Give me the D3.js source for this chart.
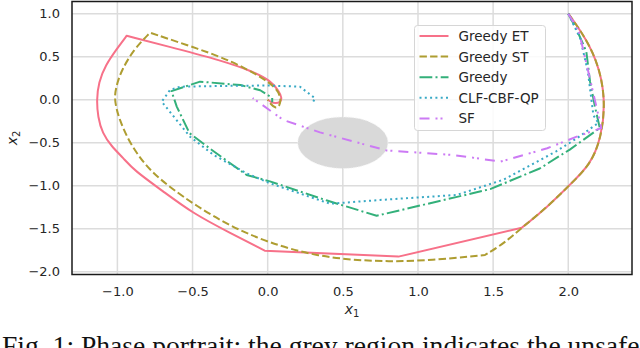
<!DOCTYPE html>
<html>
<head>
<meta charset="utf-8">
<script src="https://cdn.jsdelivr.net/npm/d3@7"></script>
<style>
  html, body { margin: 0; padding: 0; background: #fff; overflow: hidden; }
  svg { display: block; }
</style>
</head>
<body>
<div id="chart"></div>
<script>
// trajectories in (x1, x2)
const greedyET = [
  [2.0, 1.0], [2.08, 0.81], [2.19, 0.48], [2.25, 0.02],
  [2.22, -0.45], [2.145, -0.76], [2.01, -0.99], [1.86, -1.25], [1.69, -1.49],
  [0.87, -1.825], [-0.02, -1.756], [-0.25, -1.55], [-0.5, -1.32],
  [-0.7, -1.06], [-0.89, -0.82], [-0.96, -0.68], [-1.04, -0.54], [-1.1, -0.39],
  [-1.13, -0.2], [-1.138, 0.0], [-1.125, 0.2], [-1.08, 0.4], [-1.0, 0.6], [-0.938, 0.744],
  [-0.6, 0.59], [-0.317, 0.46], [-0.1, 0.33], [0.02, 0.22], [0.075, 0.1], [0.095, 0.02],
  [0.085, -0.03], [0.05, -0.045], [0.02, -0.025], [0.0, 0.0]
];
const greedyST = [
  [2.0, 1.0], [2.08, 0.81], [2.19, 0.48], [2.25, 0.02],
  [2.22, -0.45], [2.145, -0.76], [2.01, -0.99], [1.86, -1.25], [1.69, -1.49],
  [1.58, -1.66], [1.48, -1.77], [1.446, -1.806], [1.05, -1.876], [0.7, -1.884],
  [0.33, -1.826], [0.0, -1.66], [-0.25, -1.47], [-0.48, -1.23], [-0.64, -1.03],
  [-0.76, -0.86], [-0.85, -0.68], [-0.93, -0.46], [-0.985, -0.236], [-1.01, -0.08],
  [-1.02, 0.05], [-1.0, 0.2], [-0.971, 0.345], [-0.894, 0.578], [-0.783, 0.779],
  [-0.45, 0.586], [-0.229, 0.44], [-0.05, 0.27], [0.05, 0.15], [0.09, 0.03],
  [0.08, -0.08], [0.05, -0.1], [0.02, -0.05], [0.0, 0.0]
];
const greedy = [
  [2.0, 1.0], [2.06, 0.8], [2.12, 0.56], [2.145, 0.21], [2.18, -0.1], [2.21, -0.33],
  [2.01, -0.58], [1.81, -0.8], [1.48, -1.04], [1.26, -1.13], [0.725, -1.35],
  [0.39, -1.17], [0.015, -0.95], [-0.14, -0.876], [-0.36, -0.6], [-0.52, -0.39],
  [-0.605, -0.08], [-0.64, 0.1], [-0.45, 0.21], [-0.18, 0.17], [-0.05, 0.11],
  [0.03, 0.02], [0.03, -0.03]
];
const clfCbfQp = [
  [2.0, 1.0], [2.08, 0.71], [2.13, 0.33], [2.167, -0.18], [2.2, -0.27], [2.056, -0.45],
  [1.92, -0.6], [1.57, -0.93], [1.257, -1.108], [0.747, -1.166], [0.415, -1.21],
  [0.015, -0.972], [-0.14, -0.856], [-0.36, -0.643], [-0.517, -0.43], [-0.705, -0.023],
  [-0.65, 0.113], [-0.583, 0.151], [-0.3, 0.16], [0.0, 0.165], [0.215, 0.151],
  [0.315, 0.016], [0.303, -0.023]
];
const sf = [
  [2.0, 1.0], [2.07, 0.8], [2.13, 0.35], [2.22, -0.33], [2.056, -0.43], [1.86, -0.565],
  [1.55, -0.72], [1.235, -0.643], [0.79, -0.59], [0.348, -0.38], [0.104, -0.236],
  [-0.1, 0.02]
];

// indices where a smooth trajectory has a sharp corner (trigger/switch points)
const kinksET = [8, 9, 10, 23];
const kinksST = [11, 28];

const seriesNames = ["Greedy ET", "Greedy ST", "Greedy", "CLF-CBF-QP", "SF"];
const seriesData = [greedyET, greedyST, greedy, clfCbfQp, sf];
const seriesKinks = [kinksET, kinksST, null, null, null];
const colors = ["#f77189", "#ae9d31", "#33b07a", "#38a9c5", "#cc7af4"];
const dashes = [null, "7.4,3.2", "12.8,3.2,2,3.2", "2,3.3", "10,6,2,3,2,6"];

const xTicks = [-1.0, -0.5, 0.0, 0.5, 1.0, 1.5, 2.0];
const yTicks = [-2.0, -1.5, -1.0, -0.5, 0.0, 0.5, 1.0];

// unsafe set: disc centre and radius
const obstacle = {cx: 0.5, cy: -0.5, r: 0.3};

const W = 640, H = 348;
const margin = {top: 1.5, right: 8, bottom: 73.5, left: 72};

const svg = d3.select("#chart").append("svg")
  .attr("width", W).attr("height", H);

const x = d3.scaleLinear().domain([-1.302, 2.424]).range([margin.left, W - margin.right]);
const y = d3.scaleLinear().domain([-2.033, 1.142]).range([H - margin.bottom, margin.top]);

const fmt = d => (d < 0 ? "\u2212" : "") + Math.abs(d).toFixed(1);

// grid
const grid = svg.append("g").attr("stroke", "#dcdcdc").attr("stroke-width", 1.5);
grid.selectAll(".gx").data(xTicks).enter().append("line")
  .attr("x1", d => x(d)).attr("x2", d => x(d))
  .attr("y1", y.range()[1]).attr("y2", y.range()[0]);
grid.selectAll(".gy").data(yTicks).enter().append("line")
  .attr("y1", d => y(d)).attr("y2", d => y(d))
  .attr("x1", x.range()[0]).attr("x2", x.range()[1]);

// obstacle
svg.append("ellipse")
  .attr("cx", x(obstacle.cx)).attr("cy", y(obstacle.cy))
  .attr("rx", x(obstacle.cx + obstacle.r) - x(obstacle.cx))
  .attr("ry", y(obstacle.cy) - y(obstacle.cy + obstacle.r))
  .attr("fill", "#d9d9d9")
  .attr("stroke", "#f2f2f2").attr("stroke-width", 1).attr("stroke-dasharray", "1,1.5");

// trajectories: smoothed between kinks, straight otherwise
const smooth = d3.line().x(d => x(d[0])).y(d => y(d[1])).curve(d3.curveBasis);
const straight = d3.line().x(d => x(d[0])).y(d => y(d[1]));
const trajPath = (pts, kinks) => {
  if (!kinks) return straight(pts);
  const cuts = [0, ...kinks, pts.length - 1];
  return cuts.slice(1).map((c, i) => {
    const piece = pts.slice(cuts[i], c + 1);
    const d = piece.length > 2 ? smooth(piece) : straight(piece);
    return i === 0 ? d : d.replace(/^M/, "L");
  }).join("");
};

const plot = svg.append("g").attr("fill", "none").attr("stroke-width", 2);
plot.selectAll("path").data(seriesData).enter().append("path")
  .attr("d", (d, i) => trajPath(d, seriesKinks[i]))
  .attr("stroke", (d, i) => colors[i])
  .attr("stroke-dasharray", (d, i) => dashes[i])
  .attr("stroke-linejoin", "round");

// axes, labels only
const xAxis = svg.append("g")
  .attr("transform", `translate(0,${y.range()[0]})`)
  .call(d3.axisBottom(x).tickValues(xTicks).tickFormat(fmt).tickSize(0).tickPadding(12));
const yAxis = svg.append("g")
  .attr("transform", `translate(${x.range()[0]},0)`)
  .call(d3.axisLeft(y).tickValues(yTicks).tickFormat(fmt).tickSize(0).tickPadding(12));
[xAxis, yAxis].forEach(a => {
  a.select(".domain").remove();
  a.selectAll("text")
    .attr("font-family", "DejaVu Sans").attr("font-size", 13).attr("fill", "#262626");
});

// frame
svg.append("rect")
  .attr("x", x.range()[0]).attr("y", y.range()[1])
  .attr("width", x.range()[1] - x.range()[0])
  .attr("height", y.range()[0] - y.range()[1])
  .attr("fill", "none").attr("stroke", "#1a1a1a").attr("stroke-width", 1.5);

// axis titles
const xl = svg.append("text")
  .attr("x", (x.range()[0] + x.range()[1]) / 2).attr("y", 313.5)
  .attr("text-anchor", "middle")
  .attr("font-family", "DejaVu Sans").attr("font-size", 14).attr("fill", "#262626");
xl.append("tspan").attr("font-style", "italic").text("x");
xl.append("tspan").attr("font-size", 10).attr("dy", 3).text("1");

const yl = svg.append("text")
  .attr("transform", `translate(17,${(y.range()[0] + y.range()[1]) / 2}) rotate(-90)`)
  .attr("text-anchor", "middle")
  .attr("font-family", "DejaVu Sans").attr("font-size", 14).attr("fill", "#262626");
yl.append("tspan").attr("font-style", "italic").text("x");
yl.append("tspan").attr("font-size", 10).attr("dy", 3).text("2");

// legend
const legend = svg.append("g").attr("transform", "translate(414.5,25.5)");
legend.append("rect")
  .attr("width", 131).attr("height", 105).attr("rx", 3)
  .attr("fill", "#fff").attr("fill-opacity", 0.85)
  .attr("stroke", "#d6d6d6").attr("stroke-width", 1);
const rows = legend.selectAll(".row").data(seriesNames).enter().append("g")
  .attr("transform", (d, i) => `translate(0,${10.5 + i * 20.6})`);
rows.append("line")
  .attr("x1", 5).attr("x2", 34)
  .attr("stroke", (d, i) => colors[i]).attr("stroke-width", 2)
  .attr("stroke-dasharray", (d, i) => dashes[i]);
rows.append("text")
  .attr("x", 44).attr("y", 5)
  .attr("font-family", "DejaVu Sans").attr("font-size", 13.5).attr("fill", "#262626")
  .text(d => d);

// caption below the figure (cut by the bottom edge, as in the source)
svg.append("text")
  .attr("x", 2).attr("y", 355)
  .attr("font-family", "Liberation Serif").attr("font-size", 27.6).attr("fill", "#111")
  .text("Fig. 1: Phase portrait: the grey region indicates the unsafe set.");
</script>
</body>
</html>
